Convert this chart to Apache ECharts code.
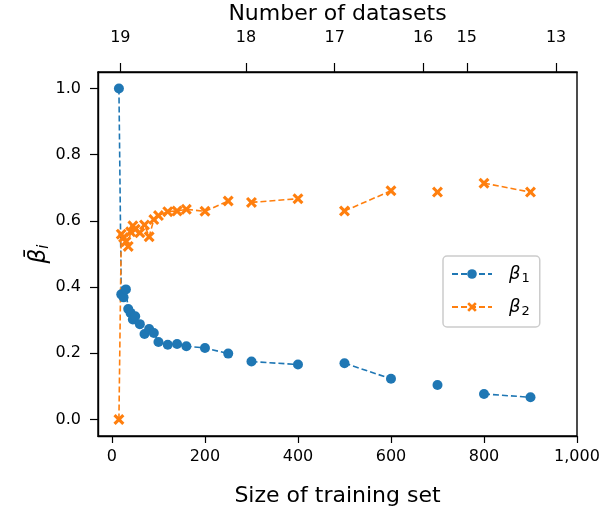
<!DOCTYPE html>
<html>
<head>
<meta charset="utf-8">
<script src="https://cdn.jsdelivr.net/npm/echarts@6/dist/echarts.min.js"></script>
<style>
	html, body {margin:0; padding:0; background:#fff;}
	#main {width:602px; height:511px;}
</style>
</head>
<body>
<div id="main"></div>
<script>
//训练集大小
var sizes = [15, 20, 25, 30, 35, 40, 45, 50, 60, 70, 80, 90, 100, 120, 140, 160, 200, 250, 300, 400, 500, 600, 700, 800, 900];
//beta1 / beta2 均值
var beta1 = [1.0, 0.378, 0.369, 0.393, 0.334, 0.322, 0.302, 0.312, 0.288, 0.258, 0.273, 0.261, 0.234, 0.226, 0.228, 0.221, 0.216, 0.199, 0.175, 0.166, 0.170, 0.123, 0.104, 0.077, 0.067];
var beta2 = [0.0, 0.560, 0.550, 0.537, 0.523, 0.567, 0.585, 0.575, 0.564, 0.588, 0.552, 0.604, 0.616, 0.628, 0.630, 0.635, 0.629, 0.660, 0.656, 0.667, 0.630, 0.691, 0.687, 0.714, 0.687];
//连线分组（组之间断开）
var group = [0, 0, 0, 0, 0, 0, 0, 0, 0, 0, 0, 0, 0, 0, 0, 0, 0, 0, 1, 1, 2, 2, 3, 4, 4];
//顶部坐标轴：数据集数量
var topTickPos = [18, 288, 479, 669, 763, 955];
var topTickLab = ['19', '18', '17', '16', '15', '13'];
//底部/左侧刻度
var xTicks = [0, 200, 400, 600, 800, 1000];
var yTicks = [0, 0.2, 0.4, 0.6, 0.8, 1.0];

var buildData = function(ys){
	var out = [];
	for(var i = 0; i < sizes.length; i++){
		if(i > 0 && group[i] !== group[i - 1]){
			out.push([sizes[i - 1], '-']);//断开
		}
		out.push([sizes[i], ys[i]]);
	}
	return out;
};

var FONT = 'DejaVu Sans';
var crossPath = 'path://M0,2L2,0L5,3L8,0L10,2L7,5L10,8L8,10L5,7L2,10L0,8L3,5Z';
var myChart = echarts.init(document.getElementById('main'));
var option = {
	animation: false,
	backgroundColor: '#fff',
	grid: {left: 98, right: 25, top: 72, bottom: 75, outerBoundsMode: 'none', containLabel: false,
		show: true, borderColor: '#000', borderWidth: 1.4, backgroundColor: 'transparent'},
	legend: {
		orient: 'vertical', left: 443, top: 256,
		padding: [9, 10, 9, 8], itemGap: 13, itemWidth: 40, itemHeight: 12,
		backgroundColor: '#fff', borderColor: '#cccccc', borderWidth: 1.5, borderRadius: 4,
		formatter: function(name){
			return name === 'b1' ? '{g|β}{s|1}' : '{g|β}{s|2}';
		},
		textStyle: {
			fontFamily: FONT, fontSize: 17, color: '#000', padding: [0, 0, 0, 12],
			rich: {
				g: {fontFamily: FONT, fontStyle: 'italic', fontSize: 18, color: '#000'},
				s: {fontFamily: FONT, fontSize: 13, color: '#000', padding: [9, 0, 0, 1]}
			}
		},
		data: ['b1', 'b2']
	},
	xAxis: [{
		type: 'value', position: 'bottom', min: -30, max: 1000,
		name: 'Size of training set', nameLocation: 'middle', nameGap: 49,
		nameTextStyle: {fontFamily: FONT, fontSize: 22, color: '#000'},
		axisLine: {show: true, onZero: false, lineStyle: {color: '#000', width: 1.4}},
		axisTick: {show: true, length: 7, customValues: xTicks, lineStyle: {color: '#000', width: 1.2}},
		axisLabel: {customValues: xTicks, margin: 13, fontFamily: FONT, fontSize: 16, color: '#000',
			formatter: function(v){ return v >= 1000 ? '1,000' : String(v); }},
		splitLine: {show: false}
	}, {
		type: 'value', position: 'top', min: -30, max: 1000,
		name: 'Number of datasets', nameLocation: 'middle', nameGap: 42,
		nameTextStyle: {fontFamily: FONT, fontSize: 22, color: '#000'},
		axisLine: {show: true, onZero: false, lineStyle: {color: '#000', width: 1.4}},
		axisTick: {show: true, length: 9, customValues: topTickPos, lineStyle: {color: '#000', width: 1.2}},
		axisLabel: {customValues: topTickPos, margin: 26, fontFamily: FONT, fontSize: 16, color: '#000',
			formatter: function(v){
				var idx = topTickPos.indexOf(v);
				return idx >= 0 ? topTickLab[idx] : '';
			}},
		splitLine: {show: false}
	}],
	yAxis: {
		type: 'value', min: -0.05, max: 1.05,
		name: '{b|β̄}{s|i}', nameLocation: 'middle', nameGap: 46, nameRotate: 90, nameMoveOverlap: false,
		nameTextStyle: {
			rich: {
				b: {fontFamily: FONT, fontStyle: 'italic', fontSize: 23, color: '#000'},
				s: {fontFamily: FONT, fontStyle: 'italic', fontSize: 15, color: '#000', padding: [10, 0, 0, 0]}
			}
		},
		axisLine: {show: true, onZero: false, lineStyle: {color: '#000', width: 1.4}},
		axisTick: {show: true, length: 8, customValues: yTicks, lineStyle: {color: '#000', width: 1.2}},
		axisLabel: {customValues: yTicks, margin: 17, fontFamily: FONT, fontSize: 16, color: '#000',
			formatter: function(v){ return v.toFixed(1); }},
		splitLine: {show: false}
	},
	series: [
		{name: 'b1', type: 'line', xAxisIndex: 0, data: buildData(beta1), connectNulls: false,
			symbol: 'circle', symbolSize: 10, color: '#1f77b4',
			itemStyle: {color: '#1f77b4'},
			lineStyle: {type: [6, 3], width: 1.6, color: '#1f77b4'}},
		{name: 'b2', type: 'line', xAxisIndex: 0, data: buildData(beta2), connectNulls: false,
			symbol: crossPath, symbolSize: 11, color: '#ff7f0e',
			itemStyle: {color: '#ff7f0e'},
			lineStyle: {type: [6, 3], width: 1.6, color: '#ff7f0e'}}
	]
};
myChart.setOption(option);
</script>
</body>
</html>
